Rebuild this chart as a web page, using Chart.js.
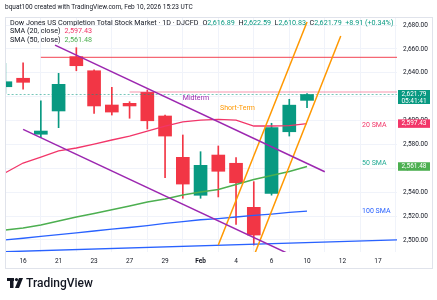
<!DOCTYPE html>
<html>
<head>
<meta charset="utf-8">
<script src="https://cdn.jsdelivr.net/npm/chart.js@4.4.1/dist/chart.umd.min.js"></script>
<style>
  html, body { margin: 0; padding: 0; background: #fff; }
  #wrap { position: relative; width: 437px; height: 300px; }
</style>
</head>
<body>
<div id="wrap"><canvas id="myChart" width="437" height="300"></canvas></div>
<script>
// trading days, index 0 = Jan 15
var days = ['Jan 15', 'Jan 16', 'Jan 20', 'Jan 21', 'Jan 22', 'Jan 23', 'Jan 26', 'Jan 27', 'Jan 28',
    'Jan 29', 'Jan 30', 'Feb 2', 'Feb 3', 'Feb 4', 'Feb 5', 'Feb 6', 'Feb 9', 'Feb 10'];
var opens  = [2628.3, 2635.4, 2588.5, 2608.0, 2653.5, 2641.7, 2613.0, 2614.4, 2623.6, 2603.8, 2569.2, 2537.4, 2571.1, 2564.2, 2527.3, 2539.0, 2590.6, 2616.89];
var highs  = [2647.9, 2648.4, 2616.6, 2639.5, 2661.0, 2642.5, 2627.8, 2615.8, 2625.6, 2604.6, 2587.9, 2573.9, 2578.7, 2568.9, 2548.8, 2597.7, 2617.8, 2622.59];
var lows   = [2622.8, 2626.2, 2585.6, 2594.0, 2641.7, 2606.0, 2604.6, 2601.9, 2592.9, 2552.1, 2534.9, 2534.9, 2536.0, 2513.1, 2495.7, 2537.5, 2587.0, 2610.83];
var closes = [2632.5, 2632.0, 2591.2, 2630.3, 2645.9, 2612.2, 2607.1, 2612.2, 2599.8, 2587.0, 2546.8, 2562.5, 2557.5, 2547.9, 2504.1, 2594.0, 2612.88, 2621.79];

var sma20  = [2556.3, 2564.4, 2569.4, 2574.5, 2577.0, 2580.3, 2583.7, 2587.0, 2591.2, 2595.4, 2598.8, 2600.4, 2600.9, 2600.4, 2595.4, 2595.4, 2595.8, 2597.43];
var sma50  = [2508.3, 2510.0, 2512.5, 2515.8, 2519.2, 2522.2, 2525.3, 2528.4, 2531.8, 2534.3, 2537.7, 2540.1, 2542.2, 2546.4, 2550.6, 2554.0, 2557.3, 2561.48];
var sma100 = [2500.0, 2501.4, 2503.0, 2504.5, 2506.0, 2507.5, 2509.0, 2510.4, 2512.0, 2513.8, 2515.4, 2516.9, 2517.9, 2519.2, 2520.5, 2521.7, 2523.0, 2524.2];

// time axis labels (every second trading day, incl. future slots)
var tickIdx    = [1, 3, 5, 7, 9, 11, 13, 15, 17, 19, 21];
var tickLabels = ['16', '21', '23', '27', '29', 'Feb', '4', '6', '10', '12', '17'];
var priceTicks = [2500, 2520, 2540, 2560, 2580, 2600, 2620, 2640, 2660, 2680];

// drawings: [x0, y0, x1, y1] in bar index / price
var midUpper   = [2.8, 2663.2, 18.0, 2557.1];
var midLower   = [1.0, 2592.6, 15.9, 2488.8];
var shortLeft  = [12.0, 2495.7, 17.0, 2682.5];
var shortRight = [14.07, 2489.0, 18.9, 2670.8];
var blueTrend  = [0, 2490.1, 22.1, 2500.0];
var resRed     = [2, 2652.9, 22.1, 2652.9];
var resPink    = [7, 2623.9, 22.1, 2623.9];

var GREEN = '#089981', RED = '#f23645';
var FONT = 'Roboto, "Noto Sans", sans-serif';

function seg(s) { return [{ x: s[0], y: s[1] }, { x: s[2], y: s[3] }]; }
function fmt(v) { return v.toLocaleString('en-US', { minimumFractionDigits: 2, maximumFractionDigits: 2 }); }

var barColors = closes.map(function (c, i) { return c >= opens[i] ? GREEN : RED; });
var wickData = days.map(function (d, i) { return { x: i, y: [lows[i], highs[i]] }; });
var bodyData = days.map(function (d, i) { return { x: i, y: [opens[i], closes[i]] }; });
function series(arr) { return arr.map(function (v, i) { return { x: i, y: v }; }); }

function lineDs(data, color, width, order, dash) {
    return {
        type: 'line', data: data, borderColor: color, borderWidth: width || 1.5,
        pointRadius: 0, tension: 0, fill: false, order: order || 1, borderDash: dash || []
    };
}

var overlay = {
    id: 'overlay',
    afterDraw: function (chart) {
        var ctx = chart.ctx, x = chart.scales.x, y = chart.scales.y, a = chart.chartArea;
        ctx.save();

        // pane frame
        ctx.strokeStyle = '#e0e3eb';
        ctx.lineWidth = 1;
        ctx.strokeRect(5.5, 17.5, 427, 251);

        function runText(parts, px, py, size) {
            ctx.textBaseline = 'middle';
            ctx.textAlign = 'left';
            parts.forEach(function (p) {
                ctx.font = (p.bold ? 'bold ' : '') + size + 'px ' + FONT;
                ctx.fillStyle = p.c;
                ctx.fillText(p.t, px, py);
                px += ctx.measureText(p.t).width + (p.gap || 0);
            });
        }

        // header
        runText([{ t: 'bquat100 created with TradingView.com, Feb 10, 2026 15:23 UTC', c: '#131722' }], 5, 7, 6.5);
        var last = closes.length - 1;
        var chg = closes[last] - closes[last - 1];
        runText([
            { t: 'Dow Jones US Completion Total Stock Market · 1D · DJCFD', c: '#131722', gap: 4 },
            { t: 'O', c: '#131722' }, { t: fmt(opens[last]), c: GREEN, gap: 3.5 },
            { t: 'H', c: '#131722' }, { t: fmt(highs[last]), c: GREEN, gap: 3.5 },
            { t: 'L', c: '#131722' }, { t: fmt(lows[last]), c: GREEN, gap: 3.5 },
            { t: 'C', c: '#131722' }, { t: fmt(closes[last]), c: GREEN, gap: 3.5 },
            { t: '+' + chg.toFixed(2) + ' (+' + (chg / closes[last - 1] * 100).toFixed(2) + '%)', c: GREEN }
        ], 10, 23, 7.2);
        runText([{ t: 'SMA (20, close)', c: '#131722', gap: 4 }, { t: fmt(sma20[last]), c: '#f23669' }], 10, 31.5, 7.2);
        runText([{ t: 'SMA (50, close)', c: '#131722', gap: 4 }, { t: fmt(sma50[last]), c: '#4caf50' }], 10, 40, 7.2);

        // drawing labels
        ctx.font = '7px ' + FONT;
        ctx.textBaseline = 'middle';
        ctx.textAlign = 'left';
        ctx.fillStyle = '#9c27b0';
        ctx.fillText('Midterm', x.getPixelForValue(10.0), y.getPixelForValue(2618.9));
        ctx.fillStyle = '#ff9800';
        ctx.fillText('Short-Term', x.getPixelForValue(12.1), y.getPixelForValue(2610.5));
        ctx.fillStyle = '#f23669';
        ctx.fillText('20 SMA', x.getPixelForValue(20.1), y.getPixelForValue(2595.7));
        ctx.fillStyle = '#22ab94';
        ctx.fillText('50 SMA', x.getPixelForValue(20.1), y.getPixelForValue(2564.4));
        ctx.fillStyle = '#2962ff';
        ctx.fillText('100 SMA', x.getPixelForValue(20.1), y.getPixelForValue(2524.2));

        // price scale labels
        function tag(val, bg, sub) {
            var py = y.getPixelForValue(val);
            var h = sub ? 14 : 8.5;
            ctx.fillStyle = bg;
            ctx.fillRect(a.right + 1, py - (sub ? 4.5 : 4.25), 32, h);
            ctx.fillStyle = '#fff';
            ctx.font = '6.5px ' + FONT;
            ctx.textAlign = 'center';
            ctx.fillText(fmt(val), a.right + 17, py);
            if (sub) ctx.fillText(sub, a.right + 17, py + 6.5);
        }
        tag(closes[last], GREEN, '05:41:41');
        tag(sma20[last], '#f23669');
        tag(sma50[last], '#4caf50');

        // TradingView logo
        ctx.fillStyle = '#131722';
        ctx.fillRect(7, 278, 7, 3);
        ctx.fillRect(10, 278, 3.5, 10);
        ctx.beginPath(); ctx.arc(16.5, 279.6, 1.6, 0, Math.PI * 2); ctx.fill();
        ctx.beginPath();
        ctx.moveTo(19, 278); ctx.lineTo(23, 278); ctx.lineTo(19, 288); ctx.lineTo(15, 288);
        ctx.closePath(); ctx.fill();
        ctx.font = '500 12px ' + FONT;
        ctx.textAlign = 'left';
        ctx.textBaseline = 'middle';
        ctx.fillText('TradingView', 26, 283.5);
        ctx.restore();
    }
};

document.addEventListener('DOMContentLoaded', function () {
    var ctx = document.getElementById('myChart').getContext('2d');
    var myChart = new Chart(ctx, {
        type: 'bar',
        data: {
            datasets: [
                { type: 'bar', data: wickData, backgroundColor: barColors, barThickness: 1, grouped: false, order: 11 },
                { type: 'bar', data: bodyData, backgroundColor: barColors, barThickness: 13, grouped: false, order: 10 },
                lineDs(series(sma20), '#f23669', 1.3, 6),
                lineDs(series(sma50), '#4caf50', 1.5, 6),
                lineDs(series(sma100), '#2962ff', 1.3, 6),
                lineDs(seg(blueTrend), '#2962ff', 1.3, 5),
                lineDs(seg(resRed), 'rgba(242,54,69,0.75)', 1.2, 4),
                lineDs(seg(resPink), 'rgba(240,80,120,0.6)', 1.2, 4),
                lineDs([{ x: -1, y: closes[closes.length - 1] }, { x: 23, y: closes[closes.length - 1] }], 'rgba(8,153,129,0.55)', 1, 3, [2, 2]),
                lineDs(seg(midUpper), '#9c27b0', 1.5, 1),
                lineDs(seg(midLower), '#9c27b0', 1.5, 1),
                lineDs(seg(shortLeft), '#ff9800', 1.5, 1),
                lineDs(seg(shortRight), '#ff9800', 1.5, 1)
            ]
        },
        options: {
            responsive: false,
            animation: false,
            layout: { padding: { left: 5, top: 17, right: 5, bottom: 32 } },
            plugins: { legend: { display: false }, tooltip: { enabled: false } },
            scales: {
                x: {
                    type: 'linear',
                    offset: false,
                    min: -0.02,
                    max: 22.07,
                    afterBuildTicks: function (axis) {
                        axis.ticks = tickIdx.map(function (v) { return { value: v }; });
                    },
                    afterFit: function (axis) { axis.height = 16; },
                    grid: { color: '#f0f3fa', drawTicks: false },
                    border: { display: false },
                    ticks: {
                        autoSkip: false,
                        maxRotation: 0,
                        padding: 5,
                        color: '#131722',
                        font: function (c) {
                            var bold = c.tick && tickLabels[tickIdx.indexOf(c.tick.value)] === 'Feb';
                            return { family: FONT, size: 6.5, weight: bold ? 'bold' : 'normal' };
                        },
                        callback: function (v) { return tickLabels[tickIdx.indexOf(v)]; }
                    }
                },
                y: {
                    position: 'right',
                    min: 2489.9,
                    max: 2686.7,
                    afterBuildTicks: function (axis) {
                        axis.ticks = priceTicks.map(function (v) { return { value: v }; });
                    },
                    afterFit: function (axis) { axis.width = 35; },
                    grid: { color: '#f0f3fa', drawTicks: false },
                    border: { display: false },
                    ticks: {
                        padding: 6,
                        color: '#131722',
                        font: { family: FONT, size: 6.5 },
                        callback: function (v) { return fmt(v); }
                    }
                }
            }
        },
        plugins: [overlay]
    });
});
</script>
</body>
</html>
